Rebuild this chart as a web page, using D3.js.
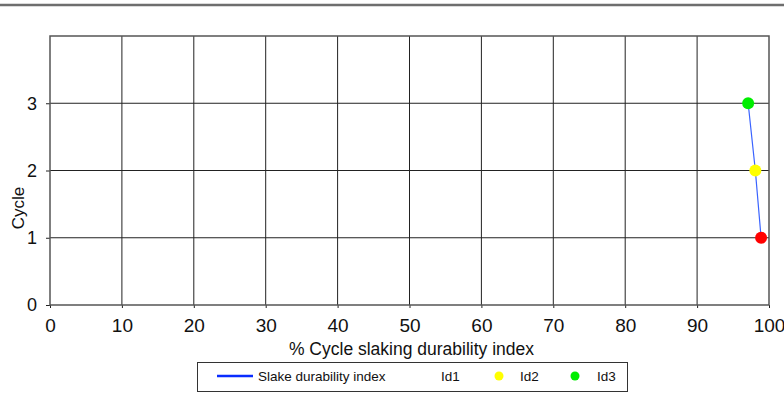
<!DOCTYPE html>
<html>
<head>
<meta charset="utf-8">
<script src="https://cdn.jsdelivr.net/npm/d3@7"></script>
<style>
  html, body { margin: 0; padding: 0; background: #fff; }
  svg { display: block; font-family: Arial, "Liberation Sans", sans-serif; }
</style>
</head>
<body>
<svg id="chart" width="784" height="394"></svg>
<script>
// Slake durability test: index (%) reached after each cycle
const cycles = [1, 2, 3];
const durabilityIndex = [98.9, 98.1, 97.1];
const pointIds = ["Id1", "Id2", "Id3"];
const pointColors = ["#ff0000", "#ffff00", "#00ee00"];
const xTicks = [0, 10, 20, 30, 40, 50, 60, 70, 80, 90, 100];
const yTicks = [0, 1, 2, 3];

const svg = d3.select("#chart");
const margin = { left: 50, right: 15, top: 36, bottom: 89 };
const W = 784, H = 394;

const x = d3.scaleLinear().domain([0, 100]).range([margin.left, W - margin.right]);
const y = d3.scaleLinear().domain([0, 4]).range([H - margin.bottom, margin.top]);

// header rule
svg.append("line")
  .attr("x1", 0).attr("x2", W).attr("y1", 5).attr("y2", 5)
  .attr("stroke", "#6e6e6e").attr("stroke-width", 2.5);

// gridlines
svg.append("g").selectAll("line").data(xTicks.slice(1, -1)).join("line")
  .attr("x1", d => x(d)).attr("x2", d => x(d))
  .attr("y1", y(4)).attr("y2", y(0))
  .attr("stroke", "#222").attr("stroke-width", 1);
svg.append("g").selectAll("line").data(yTicks.slice(1)).join("line")
  .attr("x1", x(0)).attr("x2", x(100))
  .attr("y1", d => y(d)).attr("y2", d => y(d))
  .attr("stroke", "#222").attr("stroke-width", 1);

// axes
const xAxis = svg.append("g")
  .attr("transform", `translate(0,${y(0)})`)
  .call(d3.axisBottom(x).tickValues(xTicks).tickSize(3).tickPadding(11).tickFormat(d3.format("d")));
const yAxis = svg.append("g")
  .attr("transform", `translate(${x(0)},0)`)
  .call(d3.axisLeft(y).tickValues(yTicks).tickSize(4).tickPadding(9).tickFormat(d3.format("d")));
[xAxis, yAxis].forEach(a => {
  a.select(".domain").remove();
  a.selectAll("line").attr("stroke", "#222");
  a.selectAll("text").attr("fill", "#111")
    .attr("font-family", "Arial, 'Liberation Sans', sans-serif");
});
xAxis.selectAll("text").attr("font-size", 19);
yAxis.selectAll("text").attr("font-size", 18);

// plot frame
svg.append("rect")
  .attr("x", x(0)).attr("y", y(4))
  .attr("width", x(100) - x(0)).attr("height", y(0) - y(4))
  .attr("fill", "none").attr("stroke", "#555").attr("stroke-width", 1.5);

// axis titles
svg.append("text")
  .attr("x", (x(0) + x(100)) / 2 + 2).attr("y", 355)
  .attr("text-anchor", "middle").attr("font-size", 17.5).attr("fill", "#111")
  .text("% Cycle slaking durability index");
svg.append("text")
  .attr("transform", `translate(24,208) rotate(-90)`)
  .attr("text-anchor", "middle").attr("font-size", 17).attr("fill", "#111")
  .text("Cycle");

// connecting line and points
const pts = cycles.map((c, i) => ({ c, v: durabilityIndex[i], color: pointColors[i], id: pointIds[i] }));
svg.append("path")
  .datum(pts)
  .attr("d", d3.line().x(d => x(d.v)).y(d => y(d.c)))
  .attr("fill", "none").attr("stroke", "#3a63ff").attr("stroke-width", 1.2);
svg.append("g").selectAll("circle").data(pts).join("circle")
  .attr("cx", d => x(d.v)).attr("cy", d => y(d.c)).attr("r", 6)
  .attr("fill", d => d.color);

// legend
const lg = svg.append("g");
lg.append("rect").attr("x", 197.5).attr("y", 362.5).attr("width", 430).attr("height", 29)
  .attr("fill", "#fff").attr("stroke", "#333").attr("stroke-width", 1);
lg.append("line").attr("x1", 217).attr("x2", 253).attr("y1", 376).attr("y2", 376)
  .attr("stroke", "#0a2cff").attr("stroke-width", 2.5);
lg.append("text").attr("x", 258).attr("y", 381).attr("font-size", 13.5).attr("fill", "#111")
  .text("Slake durability index");
// Id1 has no swatch in the legend; Id2 and Id3 show their marker colour
const legendItems = [
  { id: pointIds[0], color: null, dx: 0, tx: 441 },
  { id: pointIds[1], color: pointColors[1], dx: 499, tx: 520 },
  { id: pointIds[2], color: pointColors[2], dx: 575, tx: 597 }
];
legendItems.forEach(it => {
  if (it.color) {
    lg.append("circle").attr("cx", it.dx).attr("cy", 376).attr("r", 4.5).attr("fill", it.color);
  }
  lg.append("text").attr("x", it.tx).attr("y", 381).attr("font-size", 13.5).attr("fill", "#111").text(it.id);
});
</script>
</body>
</html>
